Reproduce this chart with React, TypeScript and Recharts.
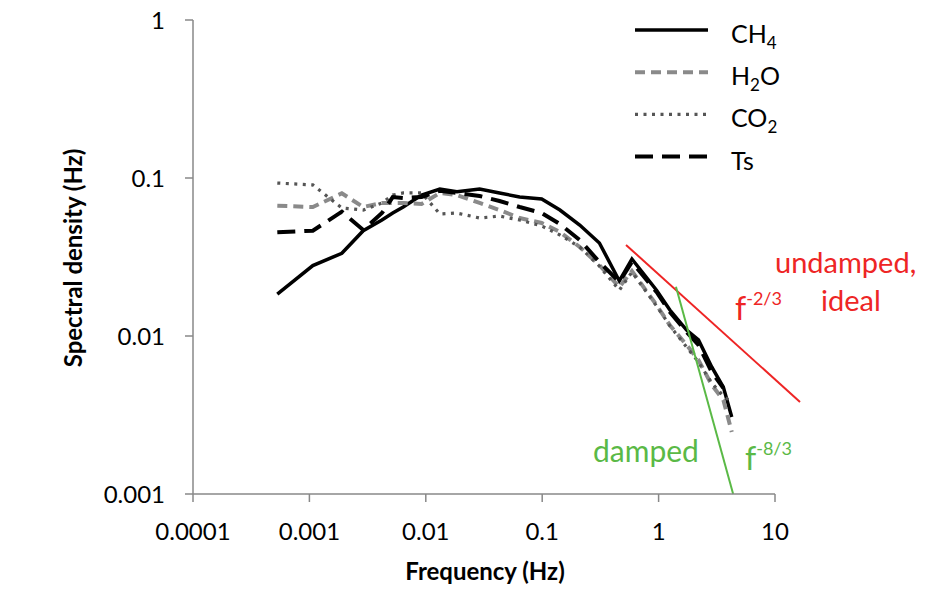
import React from 'react';
import { LineChart, Line, XAxis, YAxis, ReferenceLine } from 'recharts';

// frequency bins (Hz) shared by all spectra
const freq = [
  0.00053, 0.00107, 0.0019, 0.0029, 0.0042, 0.0052, 0.0064, 0.0092, 0.0132, 0.0185,
  0.029, 0.043, 0.064, 0.099, 0.142, 0.21, 0.31, 0.46, 0.59, 0.96,
  1.25, 1.74, 2.2, 2.86, 3.6, 4.25,
];

const ch4 = [
  0.0184, 0.0279, 0.0334, 0.0464, 0.0542, 0.06, 0.0655, 0.078, 0.0852, 0.0819,
  0.0852, 0.0804, 0.0758, 0.0736, 0.0627, 0.0504, 0.0388, 0.0223, 0.0307, 0.0195,
  0.0146, 0.0109, 0.00944, 0.00637, 0.00475, 0.00307,
];

const h2o = [
  0.0668, 0.0655, 0.08, 0.0655, 0.0695, 0.0695, 0.0695, 0.0685, 0.0804, 0.078,
  0.0695, 0.0627, 0.0558, 0.0519, 0.0455, 0.0366, 0.0281, 0.0204, 0.0258, 0.0157,
  0.0117, 0.00877, 0.00705, 0.0049, 0.00394, 0.00247,
];

const co2 = [
  0.0929, 0.0904, 0.0646, 0.0627, 0.0695, 0.078, 0.0804, 0.0804, 0.0592, 0.06,
  0.0558, 0.0574, 0.0542, 0.0497, 0.0436, 0.0366, 0.0277, 0.0195, 0.0254, 0.0155,
  0.0116, 0.00851, 0.00684, 0.00505, 0.00417, 0.00382,
];

const ts = [
  0.0453, 0.0464, 0.0612, 0.0469, 0.06, 0.0758, 0.0747, 0.0758, 0.0831, 0.0804,
  0.0769, 0.0715, 0.0655, 0.06, 0.0511, 0.0405, 0.0294, 0.022, 0.0294, 0.019,
  0.0142, 0.0106, 0.00877, 0.00592, 0.00469, null,
];

const xTicks = [0.0001, 0.001, 0.01, 0.1, 1, 10];
const xTickLabels = ['0.0001', '0.001', '0.01', '0.1', '1', '10'];
const yTicks = [0.001, 0.01, 0.1, 1];
const yTickLabels = ['0.001', '0.01', '0.1', '1'];

// slope guide lines: f^-2/3 and f^-8/3
const undampedLine = [
  { x: 0.525, y: 0.0377 },
  { x: 16.4, y: 0.00382 },
];
const dampedLine = [
  { x: 1.41, y: 0.0205 },
  { x: 4.37, y: 0.001 },
];

const rows = freq.map((f, i) => ({ f, ch4: ch4[i], h2o: h2o[i], co2: co2[i], ts: ts[i] }));

const series = [
  { key: 'ch4', name: 'CH', sub: '4', tail: '', color: '#000000', width: 3.5, dash: undefined },
  { key: 'h2o', name: 'H', sub: '2', tail: 'O', color: '#8a8a8a', width: 4, dash: '10 6' },
  { key: 'co2', name: 'CO', sub: '2', tail: '', color: '#555555', width: 3.2, dash: '3 5.5' },
  { key: 'ts', name: 'Ts', sub: '', tail: '', color: '#000000', width: 4, dash: '18 9' },
];

const RED = '#ee2525';
const GREEN = '#5ab946';
const AXIS = '#888888';
const FONT = 'Lato, "Open Sans", sans-serif';

export default function App() {
  return (
    <div style={{ margin: -8, width: 932, height: 592, fontFamily: FONT, background: '#fff' }}>
      <LineChart width={932} height={592} data={rows} margin={{ top: 20, right: 157, bottom: 0, left: 0 }}>
        <XAxis
          dataKey="f"
          type="number"
          scale="log"
          domain={[0.0001, 10]}
          ticks={xTicks}
          tickFormatter={(v: number) => xTickLabels[xTicks.indexOf(v)] ?? String(v)}
          allowDataOverflow
          height={98}
          axisLine={{ stroke: AXIS, strokeWidth: 1.5 }}
          tickLine={{ stroke: AXIS, strokeWidth: 1.5 }}
          tickSize={8}
          tickMargin={21}
          tick={{ fontSize: 24, fill: '#000', fontFamily: FONT }}
        />
        <YAxis
          type="number"
          scale="log"
          domain={[0.001, 1]}
          ticks={yTicks}
          tickFormatter={(v: number) => yTickLabels[yTicks.indexOf(v)] ?? String(v)}
          allowDataOverflow
          width={193}
          axisLine={{ stroke: AXIS, strokeWidth: 1.5 }}
          tickLine={{ stroke: AXIS, strokeWidth: 1.5 }}
          tickSize={8}
          tickMargin={20}
          tick={{ fontSize: 24, fill: '#000', fontFamily: FONT }}
        />
        {series.map((s) => (
          <Line
            key={s.key}
            dataKey={s.key}
            stroke={s.color}
            strokeWidth={s.width}
            strokeDasharray={s.dash}
            dot={false}
            activeDot={false}
            isAnimationActive={false}
          />
        ))}
        <ReferenceLine segment={undampedLine} stroke={RED} strokeWidth={2} ifOverflow="visible" />
        <ReferenceLine segment={dampedLine} stroke={GREEN} strokeWidth={2} ifOverflow="visible" />

        {/* legend */}
        {series.map((s, i) => {
          const y = 30 + i * 42.2;
          return (
            <g key={'lg-' + s.key}>
              <line x1={635} x2={708} y1={y} y2={y} stroke={s.color} strokeWidth={s.width} strokeDasharray={s.dash} />
              <text x={731} y={y + 13} fontSize={25} fill="#000" fontFamily={FONT}>
                {s.name}
                {s.sub && (
                  <tspan fontSize={17} dy={6}>
                    {s.sub}
                  </tspan>
                )}
                {s.tail && <tspan dy={-6}>{s.tail}</tspan>}
              </text>
            </g>
          );
        })}

        {/* annotations */}
        <text x={775} y={273} fontSize={29} fill={RED} fontFamily={FONT}>undamped,</text>
        <text x={821} y={311} fontSize={29} fill={RED} fontFamily={FONT}>ideal</text>
        <text x={735} y={320} fontSize={32} fill={RED} fontFamily={FONT}>
          f<tspan fontSize={18} dy={-15}>-2/3</tspan>
        </text>
        <text x={593} y={462} fontSize={30} fill={GREEN} fontFamily={FONT}>damped</text>
        <text x={745} y={470} fontSize={32} fill={GREEN} fontFamily={FONT}>
          f<tspan fontSize={18} dy={-15}>-8/3</tspan>
        </text>

        {/* axis titles */}
        <text x={485} y={580} textAnchor="middle" fontSize={24} fontWeight="bold" fill="#000" fontFamily={FONT}>
          Frequency (Hz)
        </text>
        <text
          x={72}
          y={258}
          textAnchor="middle"
          dominantBaseline="central"
          transform="rotate(-90 72 258)"
          fontSize={24}
          fontWeight="bold"
          fill="#000"
          fontFamily={FONT}
        >
          Spectral density (Hz)
        </text>
      </LineChart>
    </div>
  );
}
